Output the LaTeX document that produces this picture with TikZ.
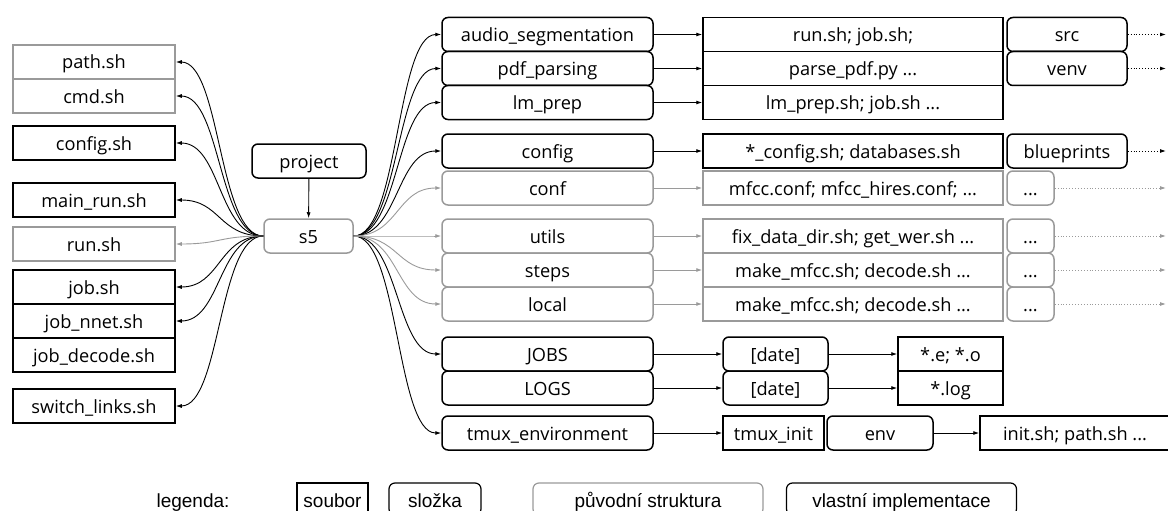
\documentclass[tikz,border=0pt]{standalone}
\usepackage{fontspec}
\setmainfont{Open Sans}
\newfontfamily\legendfont{Liberation Sans}
\usetikzlibrary{arrows.meta}
\definecolor{oldgray}{HTML}{9A9A9A}
\tikzset{
  box/.style={draw, line width=1.5pt, minimum height=34pt, inner sep=0pt,
    text height=14pt, text depth=0pt,
    font=\fontsize{18.2}{20}\selectfont, text=black},
  file/.style={box},
  folder/.style={box, rounded corners=6pt},
  old/.style={draw=oldgray},
  conn/.style={line width=0.9pt, -{Latex[length=6pt,width=4pt]}},
  oldconn/.style={conn, draw=oldgray, -{Latex[length=6pt,width=4pt,fill=oldgray]}},
  ext/.style={line width=0.9pt, dotted, -{Latex[length=6pt,width=4pt]}},
  oldext/.style={ext, draw=oldgray, -{Latex[length=6pt,width=4pt,fill=oldgray]}},
  legtext/.style={font=\legendfont\fontsize{19}{21}\selectfont,
    text height=16pt, text depth=0pt, inner sep=0pt},
  leg/.style={draw, line width=1.2pt, minimum height=32pt, legtext},
}
\begin{document}
\begin{tikzpicture}[x=1pt, y=-1pt]
\useasboundingbox (0,0) rectangle (1168,511);

% --- root folders
\node[folder, minimum width=114pt] (project) at (309,161) {project};
\node[folder, old, minimum width=89pt] (s5) at (308.5,236) {s5};
\draw[conn] (project) -- (s5);

% --- files in s5
\node[file, old, minimum width=162pt] (path)  at (94,62)  {path.sh};
\node[file, old, minimum width=162pt] (cmd)   at (94,96)  {cmd.sh};
\node[file, minimum width=162pt] (configsh)   at (94,143) {config.sh};
\node[file, minimum width=162pt] (mainrun)    at (94,200) {main\_run.sh};
\node[file, old, minimum width=162pt] (runsh) at (94,244) {run.sh};
\node[file, minimum width=162pt] (job)        at (94,287) {job.sh};
\node[file, minimum width=162pt] (jobnnet)    at (94,321) {job\_nnet.sh};
\node[file, minimum width=162pt] (jobdecode)  at (94,355) {job\_decode.sh};
\node[file, minimum width=162pt] (switch)     at (94,406) {switch\_links.sh};

\foreach \t in {path,cmd,configsh,mainrun,job,jobnnet,switch}
  \draw[conn] (s5.west) .. controls +(-45,0) and +(45,0) .. (\t.east);
\draw[oldconn] (s5.west) .. controls +(-45,0) and +(45,0) .. (runsh.east);

% --- subfolders of s5
\node[folder, minimum width=211pt] (audio)  at (547.5,34.5)  {audio\_segmentation};
\node[folder, minimum width=211pt] (pdf)    at (547.5,68.5)  {pdf\_parsing};
\node[folder, minimum width=211pt] (lmprep) at (547.5,102.5) {lm\_prep};
\node[folder, minimum width=211pt] (config) at (547.5,151)   {config};
\node[folder, old, minimum width=211pt] (conf)  at (547.5,188) {conf};
\node[folder, old, minimum width=211pt] (utils) at (547.5,236) {utils};
\node[folder, old, minimum width=211pt] (steps) at (547.5,270) {steps};
\node[folder, old, minimum width=211pt] (local) at (547.5,304) {local};
\node[folder, minimum width=211pt] (jobs)   at (547.5,354) {JOBS};
\node[folder, minimum width=211pt] (logs)   at (547.5,388) {LOGS};
\node[folder, minimum width=211pt] (tmux)   at (547.5,433) {tmux\_environment};

\foreach \t in {audio,pdf,lmprep,config,jobs,tmux}
  \draw[conn] (s5.east) .. controls +(45,0) and +(-45,0) .. (\t.west);
\foreach \t in {conf,utils,steps,local}
  \draw[oldconn] (s5.east) .. controls +(45,0) and +(-45,0) .. (\t.west);

% --- contents of the subfolders
\node[file, minimum width=300pt] (runjob)   at (853,34.5)  {run.sh; job.sh;};
\node[file, minimum width=300pt] (parsepdf) at (853,68.5)  {parse\_pdf.py ...};
\node[file, minimum width=300pt] (lmprepsh) at (853,102.5) {lm\_prep.sh; job.sh ...};
\node[file, minimum width=300pt] (cfgsh)    at (853,151)   {*\_config.sh; databases.sh};
\node[file, old, minimum width=300pt] (mfcc)    at (853,188) {mfcc.conf; mfcc\_hires.conf; ...};
\node[file, old, minimum width=300pt] (fixdata) at (853,236) {fix\_data\_dir.sh; get\_wer.sh ...};
\node[file, old, minimum width=300pt] (mkstep)  at (853,270) {make\_mfcc.sh; decode.sh ...};
\node[file, old, minimum width=300pt] (mklocal) at (853,304) {make\_mfcc.sh; decode.sh ...};

\draw[conn] (audio) -- (runjob);
\draw[conn] (pdf) -- (parsepdf);
\draw[conn] (lmprep) -- (lmprepsh);
\draw[conn] (config) -- (cfgsh);
\draw[oldconn] (conf) -- (mfcc);
\draw[oldconn] (utils) -- (fixdata);
\draw[oldconn] (steps) -- (mkstep);
\draw[oldconn] (local) -- (mklocal);

% --- deeper folders
\node[folder, minimum width=120pt] (src)        at (1067,34.5) {src};
\node[folder, minimum width=120pt] (venv)       at (1067,68.5) {venv};
\node[folder, minimum width=120pt] (blueprints) at (1067,151)  {blueprints};
\node[folder, old, minimum width=47pt] (dconf)  at (1030.5,188) {...};
\node[folder, old, minimum width=47pt] (dutils) at (1030.5,236) {...};
\node[folder, old, minimum width=47pt] (dsteps) at (1030.5,270) {...};
\node[folder, old, minimum width=47pt] (dlocal) at (1030.5,304) {...};

\coordinate (esrc)    at (1166,34.5);
\coordinate (evenv)   at (1166,68.5);
\coordinate (eblue)   at (1166,151);
\coordinate (econf)   at (1166,188);
\coordinate (eutils)  at (1166,236);
\coordinate (esteps)  at (1166,270);
\coordinate (elocal)  at (1166,304);
\draw[ext] (src) -- (esrc);
\draw[ext] (venv) -- (evenv);
\draw[ext] (blueprints) -- (eblue);
\draw[oldext] (dconf) -- (econf);
\draw[oldext] (dutils) -- (eutils);
\draw[oldext] (dsteps) -- (esteps);
\draw[oldext] (dlocal) -- (elocal);

% --- job logs
\node[folder, minimum width=105pt] (date1) at (775.5,354) {[date]};
\node[folder, minimum width=105pt] (date2) at (775.5,388) {[date]};
\node[file, minimum width=105pt] (eo)  at (950.5,354) {*.e; *.o};
\node[file, minimum width=105pt] (log) at (950.5,388) {*.log};
\draw[conn] (jobs) -- (date1);
\draw[conn] (logs) -- (date2);
\draw[conn] (date1) -- (eo);
\draw[conn] (date2) -- (log);

% --- tmux environment
\node[file, minimum width=101pt] (tmuxinit) at (773.5,433) {tmux\_init};
\node[folder, minimum width=106pt] (env)    at (880,433)   {env};
\node[file, minimum width=190pt] (initsh)   at (1075,433)  {init.sh; path.sh ...};
\draw[conn] (tmux) -- (tmuxinit);
\draw[conn] (env) -- (initsh);

% --- legend
\node[legtext] (legtitle) at (193,499) {legenda:};
\node[leg, minimum width=71pt] (lfile) at (332.5,499) {soubor};
\node[leg, rounded corners=6pt, minimum width=92pt] (lfolder) at (435,499) {složka};
\node[leg, rounded corners=6pt, draw=oldgray, minimum width=230pt] (lold) at (648,499) {původní struktura};
\node[leg, rounded corners=6pt, minimum width=230pt] (lown) at (901.5,499) {vlastní implementace};
\end{tikzpicture}
\end{document}
